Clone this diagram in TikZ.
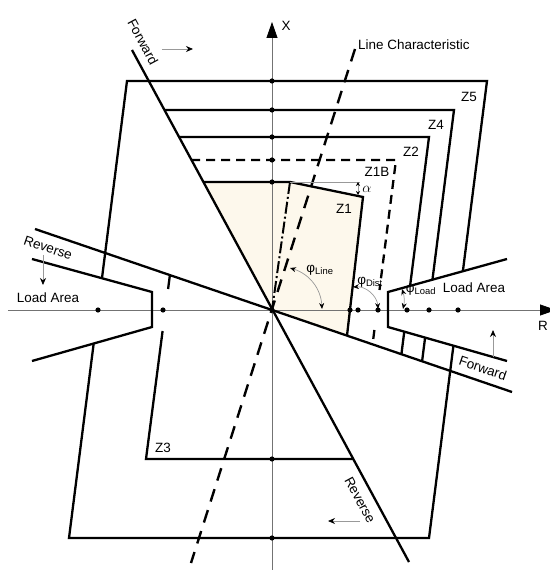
\documentclass[tikz,border=0pt]{standalone}
\usepackage{fontspec}
\setmainfont{Liberation Sans}
\usetikzlibrary{arrows.meta}

\definecolor{zonefill}{RGB}{253,248,236}

\begin{document}
\begin{tikzpicture}[x=1bp, y=1bp,
    every node/.style={font=\fontsize{13.5}{15}\selectfont, inner sep=1bp},
    zone/.style={line width=2.3bp},
    zonedash/.style={zone, dash pattern=on 9bp off 6bp},
    charline/.style={line width=2.4bp, dash pattern=on 13bp off 9bp},
    reachline/.style={line width=2bp, dash pattern=on 12bp off 3bp on 2bp off 3bp},
    axis/.style={draw=black!55, line width=0.8bp, -{Triangle[length=16bp, width=11bp, color=black]}},
    hint/.style={draw=black!40, line width=0.8bp, -{Stealth[length=7bp, width=6bp, color=black]}},
    angarrow/.style={draw=black!40, line width=0.7bp, {Stealth[length=6bp, width=5bp, color=black]}-{Stealth[length=6bp, width=5bp, color=black]}},
    tinyarrow/.style={draw=black!40, line width=0.6bp, {Stealth[length=4bp, width=4bp, color=black]}-{Stealth[length=4bp, width=4bp, color=black]}}]
  \useasboundingbox (-272,-260) rectangle (278,310);

  \coordinate (O) at (0,0);
  \coordinate (xlo) at (0,-262);
  \coordinate (xhi) at (0,288);
  \coordinate (rlo) at (-264,0);
  \coordinate (rhi) at (284,0);
  \coordinate (fwdA) at (-140,260);
  \coordinate (fwdB) at (137,-252);
  \coordinate (revA) at (-237,81);
  \coordinate (revB) at (240,-82);
  \coordinate (lcA) at (83,261);
  \coordinate (lcB) at (-81,-253);

  \coordinate (rvtxU) at (116,18);
  \coordinate (rldU) at (235,51);
  \coordinate (rvtxL) at (116,-17);
  \coordinate (rldL) at (235,-51);
  \coordinate (lvtxU) at (-120,18);
  \coordinate (lldU) at (-240,51);
  \coordinate (lvtxL) at (-120,-17);
  \coordinate (lldL) at (-240,-51);

  \coordinate (z5tl) at (-145,229);
  \coordinate (z5tr) at (215,229);
  \coordinate (z5br) at (157,-228);
  \coordinate (z5bl) at (-203,-228);
  \coordinate (z4tl) at (-107.7,200);
  \coordinate (z4tr) at (182,200);
  \coordinate (z4bv) at (131.2,-200);
  \coordinate (z2tl) at (-93.2,173);
  \coordinate (z2tr) at (157,173);
  \coordinate (z2bv) at (109.6,-200);
  \coordinate (z1btl) at (-80.8,150);
  \coordinate (z1btr) at (124,150);
  \coordinate (z1bg1) at (107.5,20);
  \coordinate (z1bg2) at (102.4,-20);
  \coordinate (z1tl) at (-68.9,128);
  \coordinate (z1k) at (18,128);
  \coordinate (z1tr) at (91,113);
  \coordinate (z1bv) at (75,-25.6);
  \coordinate (z3t) at (-102.1,34.9);
  \coordinate (z3g1) at (-103.9,21);
  \coordinate (z3g2) at (-109.4,-21);
  \coordinate (z3bl) at (-126,-149);
  \coordinate (z3br) at (81,-149);

  \coordinate (z5lu) at (intersection of z5tl--z5bl and lvtxU--lldU);
  \coordinate (z5ll) at (intersection of z5tl--z5bl and lvtxL--lldL);
  \coordinate (z5ru) at (intersection of z5tr--z5br and rvtxU--rldU);
  \coordinate (z5rl) at (intersection of z5tr--z5br and rvtxL--rldL);
  \coordinate (z4ru) at (intersection of z4tr--z4bv and rvtxU--rldU);
  \coordinate (z4rl) at (intersection of z4tr--z4bv and rvtxL--rldL);
  \coordinate (z4rb) at (intersection of z4tr--z4bv and O--revB);
  \coordinate (z2ru) at (intersection of z2tr--z2bv and rvtxU--rldU);
  \coordinate (z2rl) at (intersection of z2tr--z2bv and rvtxL--rldL);
  \coordinate (z2rb) at (intersection of z2tr--z2bv and O--revB);
  \coordinate (z1bb) at (intersection of z1btr--z1bg2 and O--revB);
  \coordinate (z1br) at (intersection of z1tr--z1bv and O--revB);

  \fill[zonefill] (O) -- (z1tl) -- (z1k) -- (z1tr) -- (z1br) -- cycle;

  \draw[axis] (xlo) -- (xhi);
  \draw[axis] (rlo) -- (rhi);

  \draw[zone] (fwdA) -- (fwdB);
  \draw[zone] (revA) -- (revB);
  \draw[charline] (lcA) -- (lcB);
  \draw[reachline] (z1k) -- (O);

  \draw[zone] (rldU) -- (rvtxU) -- (rvtxL) -- (rldL);
  \draw[zone] (lldU) -- (lvtxU) -- (lvtxL) -- (lldL);

  \draw[zone] (z5lu) -- (z5tl) -- (z5tr) -- (z5ru);
  \draw[zone] (z5ll) -- (z5bl) -- (z5br) -- (z5rl);
  \draw[zone] (z4tl) -- (z4tr) -- (z4ru);
  \draw[zone] (z4rl) -- (z4rb);
  \draw[zone] (z2tl) -- (z2tr) -- (z2ru);
  \draw[zone] (z2rl) -- (z2rb);
  \draw[zonedash] (z1btl) -- (z1btr) -- (z1bg1);
  \draw[zonedash] (z1bg2) -- (z1bb);
  \draw[zone, line join=miter] (z1tl) -- (z1k) -- (z1tr) -- (z1br);
  \draw[zone] (z3t) -- (z3g1);
  \draw[zone] (z3g2) -- (z3bl) -- (z3br);

  \foreach \r in {-174,-109,78,86,106,135,157,186}
    \fill (\r,0) circle (2.6);
  \foreach \x in {229,200,173,150,128,0,-149,-228}
    \fill (0,\x) circle (2.6);

  \coordinate (alA) at (18,128);
  \coordinate (alB) at (88,128);
  \coordinate (alU) at (86,128);
  \coordinate (alD) at (86,115);
  \draw[draw=black!40, line width=0.6bp] (alA) -- (alB);
  \draw[tinyarrow] (alU) -- (alD);

  \coordinate (phlA) at (18,42);
  \coordinate (phlB) at (50,1);
  \coordinate (phdA) at (81,23);
  \coordinate (phdB) at (106,1);
  \coordinate (phoA) at (130,21);
  \coordinate (phoB) at (131,1);
  \draw[angarrow] (phlA) to[bend left=35] (phlB);
  \draw[angarrow] (phdA) to[bend left=45] (phdB);
  \draw[angarrow] (phoA) to[bend left=15] (phoB);

  \coordinate (hTopA) at (-110,261);
  \coordinate (hTopB) at (-79,261);
  \coordinate (hLeftA) at (-229,55);
  \coordinate (hLeftB) at (-229,25);
  \coordinate (hRightA) at (221,-47);
  \coordinate (hRightB) at (221,-20);
  \coordinate (hBotA) at (88,-211);
  \coordinate (hBotB) at (56,-211);
  \draw[hint] (hTopA) -- (hTopB);
  \draw[hint] (hLeftA) -- (hLeftB);
  \draw[hint] (hRightA) -- (hRightB);
  \draw[hint] (hBotA) -- (hBotB);

  \node (lX) at (14,284.5) {X};
  \node[anchor=west] (lR) at (265,-16) {R};
  \node[anchor=west] (lLC) at (85,265) {Line Characteristic};
  \node (lZ5) at (197,213) {Z5};
  \node (lZ4) at (164,185) {Z4};
  \node (lZ2) at (139,158) {Z2};
  \node (lZ1B) at (105,138) {Z1B};
  \node (lZ1) at (72,101) {Z1};
  \node (lZ3) at (-109,-138) {Z3};
  \node (lAl) at (95,121) {$\alpha$};
  \node (lLoadL) at (-224,12) {Load Area};
  \node (lLoadR) at (202,22) {Load Area};
  \node[rotate=-61.7] (lFwdT) at (-129,268) {Forward};
  \node[rotate=-61.7] (lRevB) at (88,-190) {Reverse};
  \node[rotate=-18.9] (lRevL) at (-224,62) {Reverse};
  \node[rotate=-18.9] (lFwdR) at (211,-58) {Forward};
  \node (lPhL) at (48,40) {φ\textsubscript{Line}};
  \node (lPhD) at (98,28) {φ\textsubscript{Dist}};
  \node (lPhO) at (149,20) {φ\textsubscript{Load}};
\end{tikzpicture}
\end{document}
